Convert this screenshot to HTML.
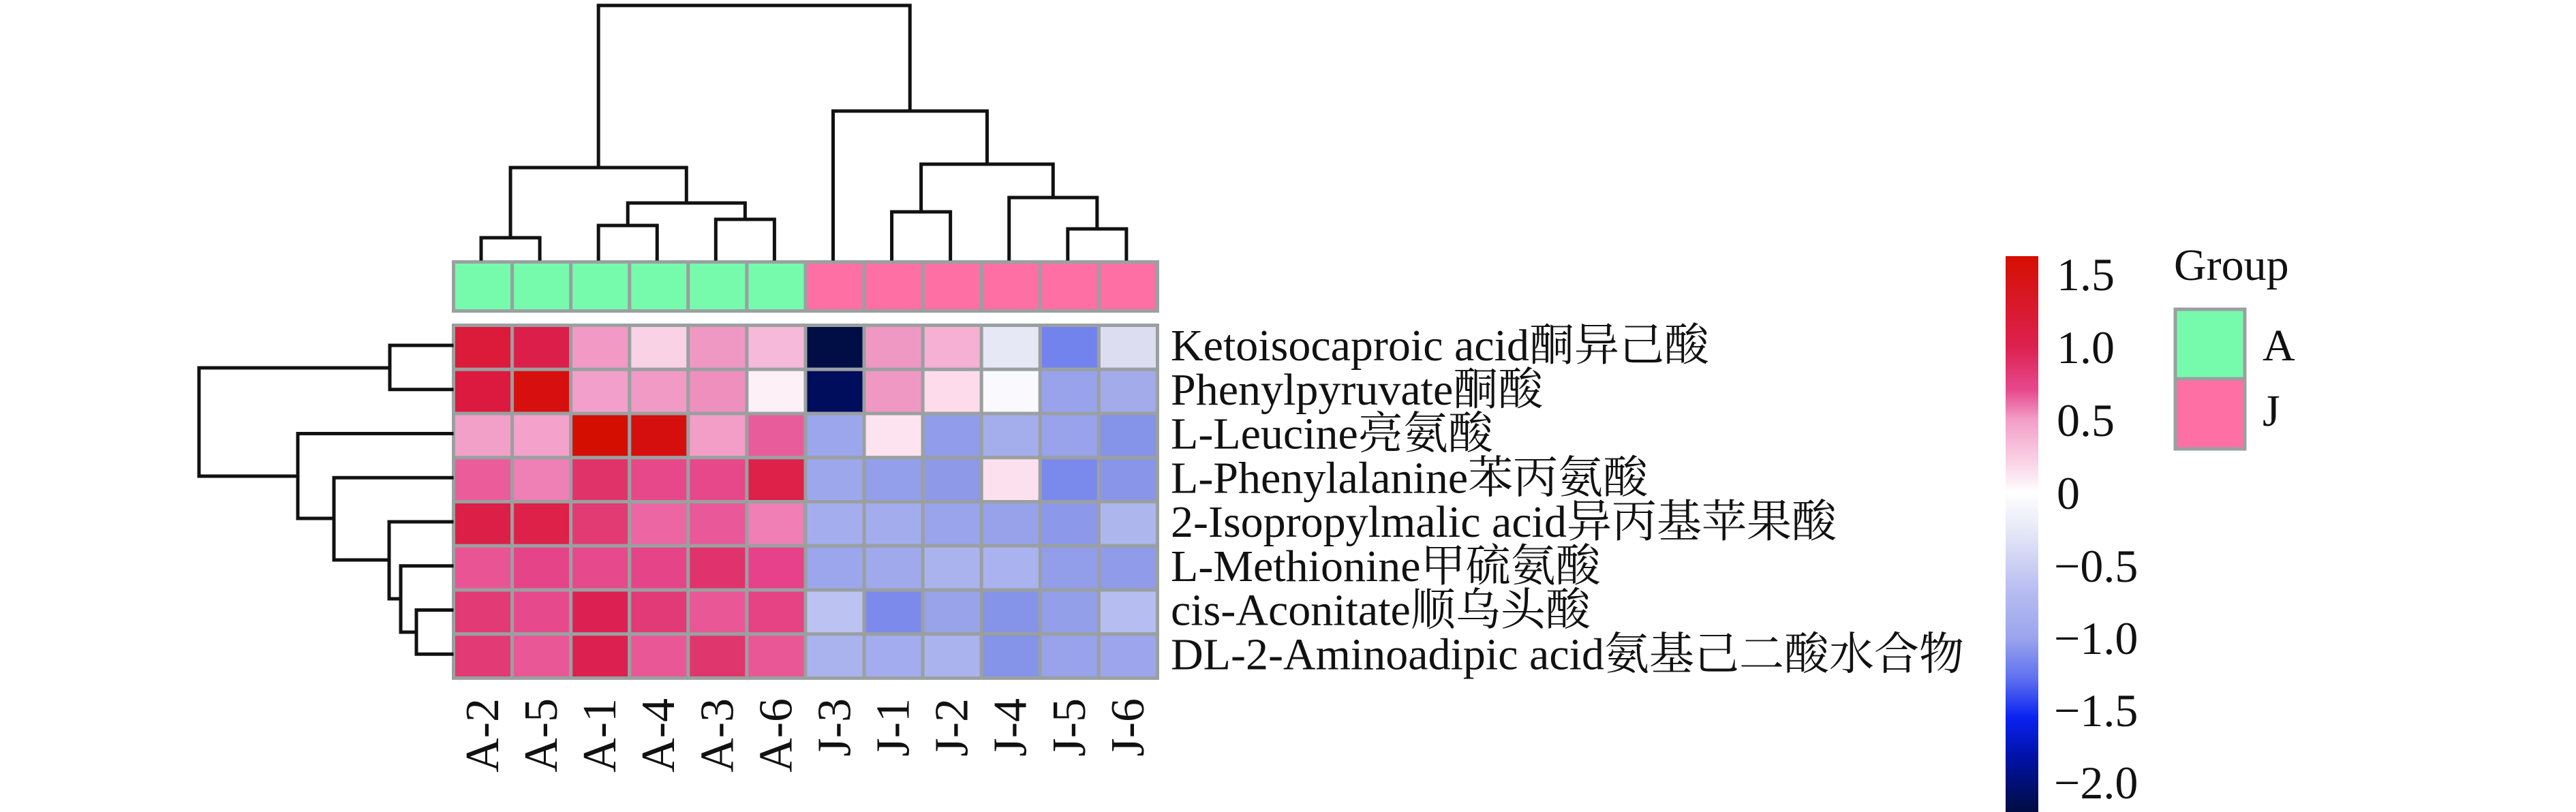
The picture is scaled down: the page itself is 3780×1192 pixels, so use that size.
<!DOCTYPE html>
<html><head><meta charset="utf-8"><style>
html,body{margin:0;padding:0;background:#fff;}
svg{display:block;}
svg text{font-family:"Liberation Serif","Noto Serif CJK SC",serif;fill:#111;}
</style></head><body>
<svg id="s" width="3780" height="1192" viewBox="0 0 3780 1192" xmlns="http://www.w3.org/2000/svg" font-family="'Liberation Serif','Noto Serif CJK SC',serif">
<defs>
<linearGradient id="cb" x1="0" y1="0" x2="0" y2="1">
<stop offset="0" stop-color="#d50f00"/>
<stop offset="0.163" stop-color="#dd2150"/>
<stop offset="0.24" stop-color="#e6488c"/>
<stop offset="0.294" stop-color="#f29ec7"/>
<stop offset="0.38" stop-color="#fbd9ea"/>
<stop offset="0.425" stop-color="#ffffff"/>
<stop offset="0.50" stop-color="#e4e6f6"/>
<stop offset="0.60" stop-color="#b8bef1"/>
<stop offset="0.688" stop-color="#9aa4ec"/>
<stop offset="0.76" stop-color="#5e70f0"/>
<stop offset="0.83" stop-color="#0a22f2"/>
<stop offset="0.90" stop-color="#0012a8"/>
<stop offset="1" stop-color="#000c40"/>
</linearGradient>
</defs>
<g id="cells" stroke="#9aa0a0" stroke-width="5"></g>
<rect x="2943" y="376" width="48" height="816" fill="url(#cb)"/>
<g font-size="68">
<text x="3018" y="426">1.5</text>
<text x="3018" y="533">1.0</text>
<text x="3018" y="640">0.5</text>
<text x="3018" y="747">0</text>
<text x="3014" y="854">−0.5</text>
<text x="3014" y="960">−1.0</text>
<text x="3014" y="1066">−1.5</text>
<text x="3014" y="1172">−2.0</text>
<text x="3190" y="411" font-size="66">Group</text>
<text x="3320" y="529" font-size="66">A</text>
<text x="3320" y="625" font-size="66">J</text>
</g>
<rect x="3192" y="454" width="102" height="102" fill="#76fbad" stroke="#9aa0a0" stroke-width="5"/>
<rect x="3192" y="556" width="102" height="103" fill="#fe6fa4" stroke="#9aa0a0" stroke-width="5"/>
</svg>
<script>
(function(){
var cols=["A-2","A-5","A-1","A-4","A-3","A-6","J-3","J-1","J-2","J-4","J-5","J-6"];
var C=[
["#dc1a3a","#dc1f4a","#f29ac5","#f9d2e6","#f098c4","#f6b9d9","#000e45","#f098c4","#f5b0d3","#e6e8f6","#7383ee","#dcddf1"],
["#dc1a3f","#d80f0f","#f39fcb","#f09ac5","#ee8fbe","#fdf0f6","#000d5c","#f098c4","#fddbeb","#fafafe","#98a3ec","#a3abeb"],
["#f3a0c8","#f4a2cc","#d40e00","#d50f0d","#f29ec7","#e95c9b","#9ca6ec","#fde2ef","#919dea","#a5aeec","#98a3ec","#8593e8"],
["#ea5c9a","#ee80b6","#e0336a","#e64889","#e64889","#dd2149","#9da7ec","#939fea","#8e99e8","#fde0ee","#7a89ec","#8895e8"],
["#dc1f47","#dd2149","#e23a73","#eb66a3","#e95898","#ef7fb5","#a4aeee","#a3adee","#99a4ec","#97a2ea","#8c98e9","#aeb6ee"],
["#e95594","#e64489","#e64a8d","#e64489","#e0336e","#e6418a","#9ca6ec","#a0a9ec","#abb3ef","#aab2ef","#929eea","#909be9"],
["#e23a74","#e64a8d","#dc2152","#e23a76","#e95796","#e64384","#bcc2f2","#7c8aec","#98a3ea","#8593e8","#949fea","#b6bdf0"],
["#e23a74","#e95796","#dc2150","#e95796","#e0366e","#e95796","#abb3ef","#a3acee","#abb3ef","#8593e8","#98a3ec","#9da6ec"]];
var rows=["Ketoisocaproic acid酮异己酸","Phenylpyruvate酮酸","L-Leucine亮氨酸","L-Phenylalanine苯丙氨酸","2-Isopropylmalic acid异丙基苹果酸","L-Methionine甲硫氨酸","cis-Aconitate顺乌头酸","DL-2-Aminoadipic acid氨基己二酸水合物"];
var NS="http://www.w3.org/2000/svg",svg=document.getElementById("s"),g=document.getElementById("cells");
function el(t,a,p,txt){var e=document.createElementNS(NS,t);for(var k in a)e.setAttribute(k,a[k]);if(txt)e.textContent=txt;(p||svg).appendChild(e);return e;}
var X0=665.5,W=86.08,Y0=477.5,H=64.75;
for(var j=0;j<12;j++){
 el("rect",{x:X0+j*W,y:384.5,width:W,height:72,fill:j<6?"#76fbad":"#fe6fa4"},g);
 for(var i=0;i<8;i++) el("rect",{x:X0+j*W,y:Y0+i*H,width:W,height:H,fill:C[i][j]},g);
 var ccx=706+j*W;
 el("text",{x:0,y:0,"font-size":70,"text-anchor":"end",transform:"translate("+(ccx+25)+",1025) rotate(-90)"},null,cols[j]);
}
for(var i=0;i<8;i++) el("text",{x:1718,y:507+i*H+22,"font-size":66},null,rows[i]);
function colx(i){return 706+i*W;}
function ry(i){return 507+i*H;}
var d="";
function tb(a,b,ya,yb,y){d+="M"+a+" "+ya+"V"+y+"H"+b+"V"+yb;}
var L=380;
tb(colx(0),colx(1),L,L,349);
tb(colx(2),colx(3),L,L,331);
tb(colx(4),colx(5),L,L,322);
tb(colx(2.5),colx(4.5),331,322,298);
tb(colx(0.5),colx(3.5),349,298,246);
tb(colx(7),colx(8),L,L,311);
tb(colx(10),colx(11),L,L,336);
tb(colx(9),colx(10.5),L,336,290);
tb(colx(7.5),colx(9.75),311,290,241);
tb(colx(6),colx(8.625),L,241,163);
tb(colx(2),colx(7.31),246,163,8);
function lf(ya,yb,xa,xb,x){d+="M"+xa+" "+ya+"H"+x+"V"+yb+"H"+xb;}
var R=663;
lf(ry(0),ry(1),R,R,572);
lf(ry(6),ry(7),R,R,611);
lf(ry(5),928,R,611,588);
lf(ry(4),879,R,588,571);
lf(ry(3),822,R,571,490);
lf(ry(2),761,R,490,437);
lf(540,699,572,437,292);
el("path",{d:d,fill:"none",stroke:"#111","stroke-width":5,"stroke-linecap":"square"});
})();
</script>
</body></html>
